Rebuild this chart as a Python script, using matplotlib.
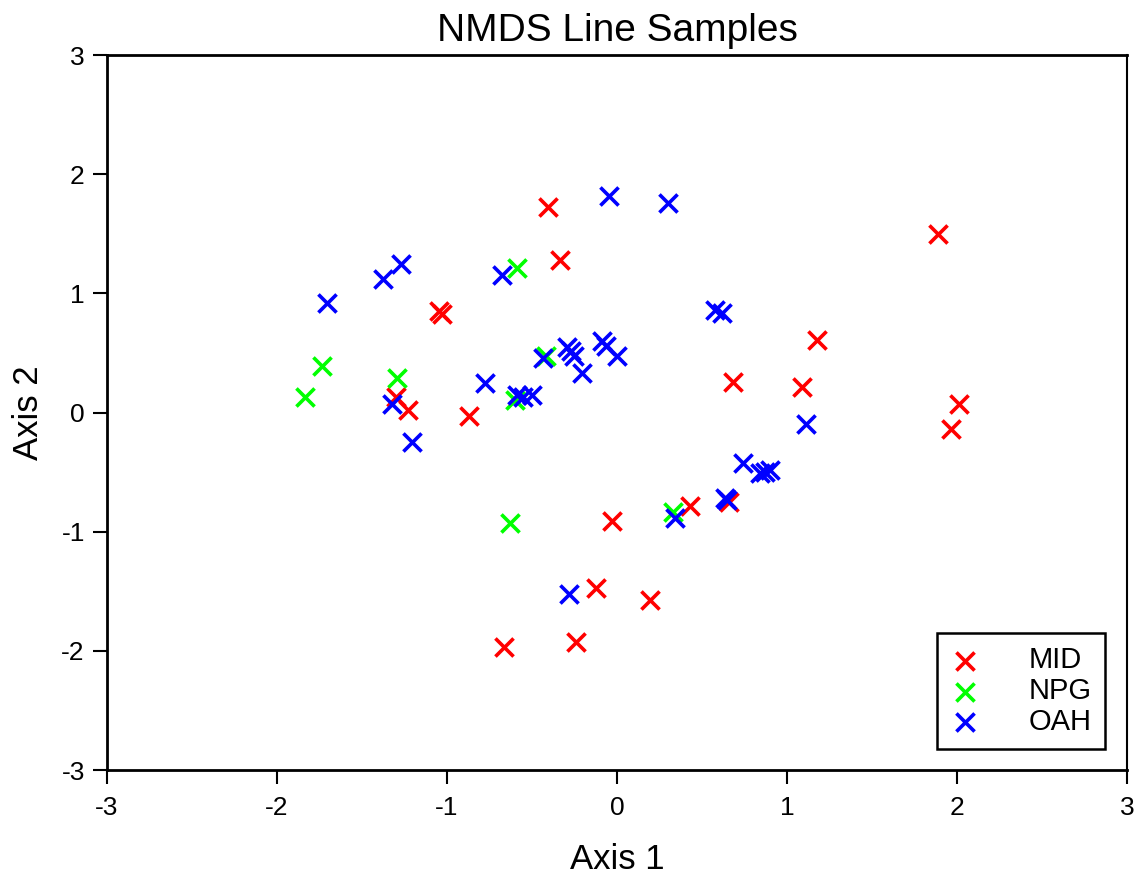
import matplotlib
matplotlib.use("Agg")
import matplotlib.pyplot as plt

plt.rcParams["font.family"] = ["Liberation Sans", "DejaVu Sans"]

# NMDS ordination scores per sampling line
mid_x = [-0.406, -0.335, 1.888, -1.047, -1.029, 1.176, 0.682, 1.088, 2.012, 1.965,
         -0.871, -1.300, -1.229, -0.029, 0.429, 0.659, -0.124, 0.194, -0.665, -0.241]
mid_y = [1.724, 1.279, 1.498, 0.852, 0.826, 0.608, 0.256, 0.214, 0.071, -0.139,
         -0.029, 0.130, 0.021, -0.910, -0.784, -0.751, -1.472, -1.573, -1.972, -1.930]

npg_x = [-0.588, -1.735, -1.835, -1.294, -0.629, 0.329, -0.600, -0.418]
npg_y = [1.212, 0.390, 0.130, 0.289, -0.927, -0.835, 0.105, 0.474]

oah_x = [-0.047, 0.300, -1.271, -1.376, -1.706, -0.676, 0.576, 0.618, -1.324, -1.206,
         -0.776, -0.435, -0.294, -0.271, -0.253, -0.206, -0.088, -0.065, 0.000,
         -0.588, -0.553, -0.500, 1.112, 0.741, 0.841, 0.871, 0.900, 0.635, 0.647,
         0.341, -0.282]
oah_y = [1.816, 1.758, 1.246, 1.120, 0.919, 1.154, 0.860, 0.835, 0.071, -0.248,
         0.247, 0.457, 0.549, 0.516, 0.474, 0.331, 0.600, 0.558, 0.474,
         0.147, 0.130, 0.147, -0.096, -0.424, -0.508, -0.499, -0.482, -0.717, -0.734,
         -0.885, -1.523]

ticks = [-3, -2, -1, 0, 1, 2, 3]

fig = plt.figure(figsize=(11.38, 8.76), dpi=100)
ax = fig.add_axes([107 / 1138, 106 / 876, 1020 / 1138, 715 / 876])

series = [("MID", mid_x, mid_y, "#ff0000"),
          ("NPG", npg_x, npg_y, "#00ff00"),
          ("OAH", oah_x, oah_y, "#0000ff")]
for name, xs, ys, col in series:
    ax.scatter(xs, ys, marker="x", s=170, linewidths=2.6, color=col, label=name)

ax.set_xlim(-3, 3)
ax.set_ylim(-3, 3)
ax.set_xticks(ticks)
ax.set_yticks(ticks)
ax.set_xticklabels([str(t) for t in ticks])
ax.set_yticklabels([str(t) for t in ticks])
ax.tick_params(direction="out", length=10, width=1.5, labelsize=19)
ax.tick_params(axis="x", pad=9)
ax.tick_params(axis="y", pad=6)

for side in ["left", "bottom", "top"]:
    ax.spines[side].set_linewidth(2.0)
ax.spines["right"].set_linewidth(1.5)

ax.set_title("NMDS Line Samples", fontsize=28, pad=10)
ax.set_xlabel("Axis 1", fontsize=25, labelpad=16)
ax.set_ylabel("Axis 2", fontsize=25, labelpad=12)

leg = ax.legend(loc="lower right", bbox_to_anchor=(0.9785, 0.029), fontsize=21,
                frameon=True, fancybox=False, framealpha=1, edgecolor="black",
                borderpad=0.45, handletextpad=1.7, labelspacing=0.1,
                borderaxespad=0, handlelength=1.0)
leg.get_frame().set_linewidth(1.8)

fig.savefig("out.png", dpi=100)
